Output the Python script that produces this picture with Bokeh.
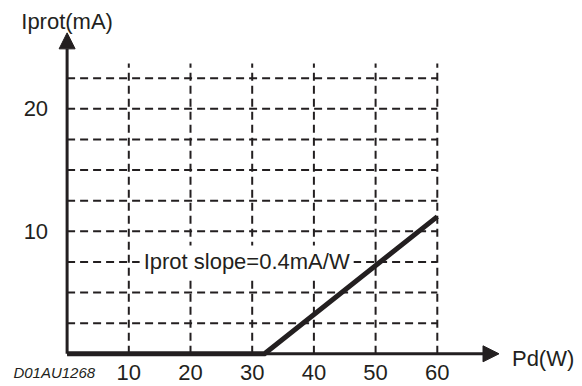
from bokeh.plotting import figure
from bokeh.models import Range1d, LinearAxis, FixedTicker, Label, Arrow, NormalHead
from bokeh.embed import file_html
from bokeh.resources import INLINE

INK = "#231f20"
FONT = "Liberation Sans"

# ---- data ----
pd_w = [0, 32, 60]          # Pd (W)
iprot_ma = [0, 0, 11.2]     # Iprot (mA)
x_ticks = [10, 20, 30, 40, 50, 60]
y_ticks = [10, 20]
x_grid = [10, 20, 30, 40, 50, 60]
y_grid = [2.5, 5, 7.5, 10, 12.5, 15, 17.5, 20, 22.5]
grid_x_max = 60
grid_y_max = 23.7
x_axis_end = 70
y_axis_end = 26.2
slope_text = "Iprot slope=0.4mA/W"
x_title = "Pd(W)"
y_title = "Iprot(mA)"
code_text = "D01AU1268"

# ---- layout ----
W, H = 582, 386
px_x, px_y = 6.17, 12.25
x0_px, y0_px = 66.6, 353.3
x_start = -x0_px / px_x
x_end = x_start + W / px_x
y_start = -(H - y0_px) / px_y
y_end = y_start + H / px_y

p = figure(width=W, height=H, x_range=Range1d(x_start, x_end),
           y_range=Range1d(y_start, y_end), x_axis_type=None, y_axis_type=None,
           output_backend="svg", toolbar_location=None,
           min_border_left=0, min_border_bottom=0,
           min_border_top=0, min_border_right=0)
p.outline_line_color = None
p.background_fill_color = "white"

def make_axis(ticks, standoff):
    return LinearAxis(ticker=FixedTicker(ticks=ticks), axis_line_color=None,
                      major_tick_line_color=None, minor_tick_line_color=None,
                      major_tick_in=0, major_tick_out=0,
                      major_label_standoff=standoff, fixed_location=0,
                      major_label_text_font=FONT,
                      major_label_text_font_size="22px",
                      major_label_text_color=INK)

p.add_layout(make_axis(x_ticks, 11), "below")
p.add_layout(make_axis(y_ticks, 19), "left")

# grid
p.segment(x0=x_grid, y0=[0] * len(x_grid), x1=x_grid, y1=[grid_y_max] * len(x_grid),
          line_color=INK, line_width=2, line_dash="8 5")
p.segment(x0=[0] * len(y_grid), y0=y_grid, x1=[grid_x_max] * len(y_grid), y1=y_grid,
          line_color=INK, line_width=2, line_dash="8 5")

# axes with arrows
p.add_layout(Arrow(x_start=0, y_start=0, x_end=x_axis_end, y_end=0,
                   line_color=INK, line_width=3,
                   end=NormalHead(size=16, fill_color=INK, line_color=INK, line_width=1)))
p.add_layout(Arrow(x_start=0, y_start=0, x_end=0, y_end=y_axis_end,
                   line_color=INK, line_width=3,
                   end=NormalHead(size=16, fill_color=INK, line_color=INK, line_width=1)))

# data line
p.line(pd_w, iprot_ma, line_color=INK, line_width=5, line_join="miter")

# texts
p.add_layout(Label(x=29.1, y=7.5, text=slope_text, text_align="center",
                   text_baseline="middle", text_font=FONT, text_font_size="22px",
                   text_color=INK, background_fill_color="white", padding=4))
p.add_layout(Label(x=0, y=27.15, text=y_title, text_align="center",
                   text_baseline="alphabetic", text_font=FONT, text_font_size="22px",
                   text_color=INK))
p.add_layout(Label(x=72.1, y=-0.42, text=x_title, text_align="left",
                   text_baseline="alphabetic", text_font=FONT, text_font_size="22px",
                   text_color=INK))
p.add_layout(Label(x=-8.7, y=-1.5, text=code_text, text_align="left",
                   text_baseline="alphabetic", text_font=FONT, text_font_size="15px",
                   text_font_style="italic", text_color=INK))

open("out.html", "w").write(file_html(p, INLINE))
